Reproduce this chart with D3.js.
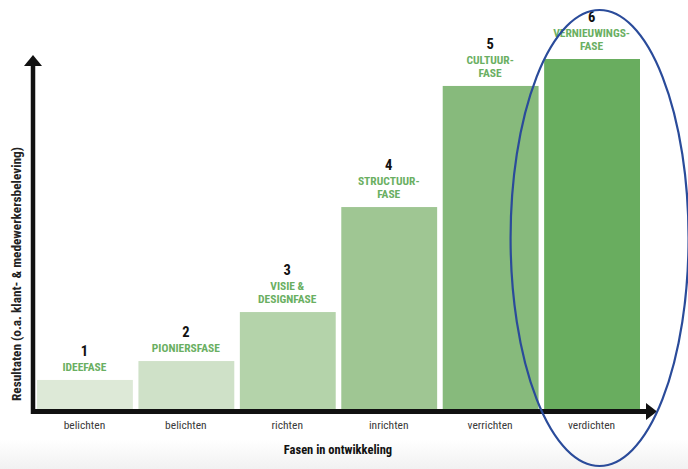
<!DOCTYPE html>
<html><head><meta charset="utf-8">
<script src="https://cdn.jsdelivr.net/npm/d3@7"></script>
<style>
html,body{margin:0;padding:0;background:#fff;}
svg{display:block;}
text{font-family:"Liberation Sans Narrow","Roboto Condensed","Arial Narrow","Liberation Sans",sans-serif;}
</style></head>
<body>
<svg id="chart" width="688" height="469"></svg>
<script>
const categories = ["belichten","belichten","richten","inrichten","verrichten","verdichten"];
const phaseNumbers = ["1","2","3","4","5","6"];
const phaseNames = [["IDEEFASE"],["PIONIERSFASE"],["VISIE &","DESIGNFASE"],["STRUCTUUR-","FASE"],["CULTUUR-","FASE"],["VERNIEUWINGS-","FASE"]];
const values = [8.3, 13.7, 27.7, 57.7, 92.3, 100];
const barColors = ["#dde9d7","#cfe1c8","#b4d3aa","#9fc693","#87ba7c","#69ad5f"];
const xTitle = "Fasen in ontwikkeling";
const yTitle = "Resultaten (o.a. klant- & medewerkersbeleving)";

const svg = d3.select("#chart");
const W = 688, H = 469;

// subtle grey shading at the bottom
const defs = svg.append("defs");
const g1 = defs.append("linearGradient").attr("id","bot").attr("x1",0).attr("x2",0).attr("y1",0).attr("y2",1);
g1.append("stop").attr("offset","0%").attr("stop-color","#ffffff");
g1.append("stop").attr("offset","100%").attr("stop-color","#f1f1f1");
svg.append("rect").attr("x",0).attr("y",440).attr("width",W).attr("height",29).attr("fill","url(#bot)");

const x = d3.scaleBand().domain(d3.range(categories.length)).range([36, 640]).paddingInner(0.045).paddingOuter(0.0);
const y = d3.scaleLinear().domain([0,100]).range([409, 59]);

// bars
svg.append("g").selectAll("rect").data(values).join("rect")
  .attr("x",(d,i)=>x(i)+1)
  .attr("y",d=>y(d))
  .attr("width",x.bandwidth()-1)
  .attr("height",d=>y(0)-y(d))
  .attr("fill",(d,i)=>barColors[i]);

// labels above bars
const lab = svg.append("g");
values.forEach((v,i)=>{
  const cx = x(i)+x.bandwidth()/2;
  const lines = phaseNames[i];
  const top = y(v);
  const lh = 13;
  lines.forEach((t,j)=>{
    lab.append("text").attr("x",cx).attr("y",top-9-(lines.length-1-j)*lh)
      .attr("text-anchor","middle").attr("font-size",11.5).attr("font-weight","bold")
      .attr("fill","#6aaf62").text(t);
  });
  lab.append("text").attr("x",cx).attr("y",top-9-(lines.length-1)*lh-15)
    .attr("text-anchor","middle").attr("font-size",14.5).attr("font-weight","bold")
    .attr("fill","#111").text(phaseNumbers[i]);
});

// axes
const xAxis = d3.axisBottom(x).tickSize(0).tickPadding(10).tickFormat(i=>categories[i]);
const ax = svg.append("g").attr("transform","translate(0,411)").call(xAxis);
ax.select(".domain").remove();
ax.selectAll("text").attr("font-size",11.5).attr("fill","#3a3a3a").attr("font-family",'"Liberation Sans Narrow","Liberation Sans",sans-serif');

// axis lines with arrows
svg.append("line").attr("x1",33).attr("x2",33).attr("y1",414).attr("y2",64).attr("stroke","#111").attr("stroke-width",4.5);
svg.append("path").attr("d",d3.line()([[24,66],[33,55],[42,66]])+"Z").attr("fill","#111");
svg.append("line").attr("x1",31).attr("x2",648).attr("y1",411.5).attr("y2",411.5).attr("stroke","#111").attr("stroke-width",5);
svg.append("path").attr("d",d3.line()([[646,403],[657,411.5],[646,420]])+"Z").attr("fill","#111");

// titles
svg.append("text").attr("x",(x.range()[0]+x.range()[1])/2).attr("y",454).attr("text-anchor","middle")
  .attr("font-size",12.5).attr("font-weight","bold").attr("fill","#111").text(xTitle);
svg.append("text").attr("transform","translate(21,274) rotate(-90)").attr("text-anchor","middle")
  .attr("font-size",13.3).attr("font-weight","bold").attr("fill","#222").text(yTitle);

// highlight ellipse around the last phase
const lastCx = x(categories.length-1)+x.bandwidth()/2 + 8;
svg.append("ellipse").attr("cx",lastCx).attr("cy",238).attr("rx",89).attr("ry",228)
  .attr("fill","none").attr("stroke","#2a4b9a").attr("stroke-width",2.2);
</script>
</body></html>
